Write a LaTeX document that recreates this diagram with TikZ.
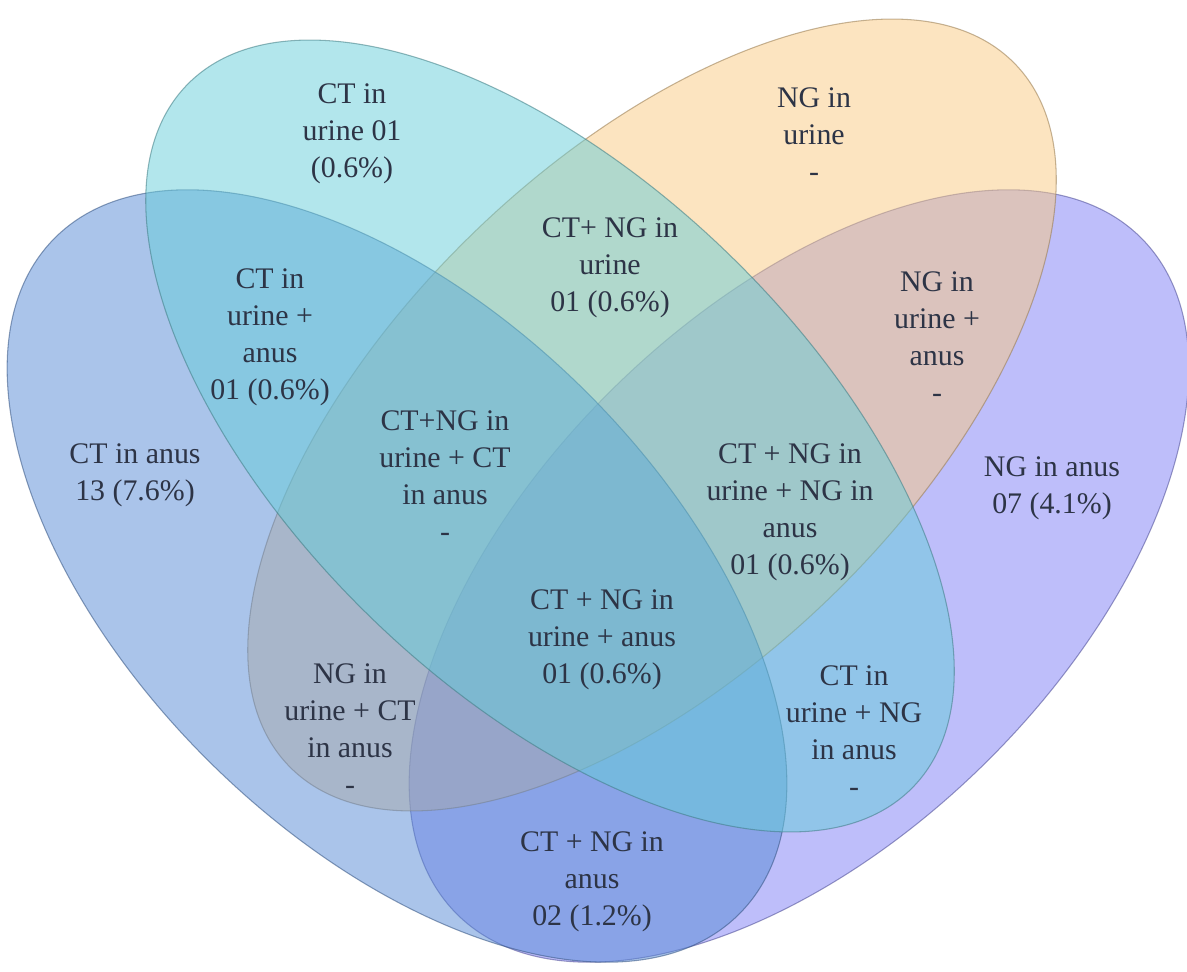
\documentclass[tikz,border=0pt]{standalone}
\usepackage{fontspec}
\setmainfont{Liberation Serif}
\definecolor{ctanus}{RGB}{85,137,213}
\definecolor{nganus}{RGB}{125,125,245}
\definecolor{cturine}{RGB}{101,205,217}
\definecolor{ngurine}{RGB}{249,201,129}
\definecolor{labeltext}{RGB}{45,52,70}
\begin{document}
\begin{tikzpicture}[
setshape/.style={fill=#1, fill opacity=0.5, draw=#1!60!black, draw opacity=0.55, line width=0.6pt},
setlabel/.style={align=center, text=labeltext, font=\fontsize{17}{21}\selectfont, inner sep=0pt},
]
\useasboundingbox (0,0) rectangle (23.74,19.42);
\path[setshape=nganus, shift={(15.98,7.90)}, rotate=44.5] (0,0) ellipse (9.62 and 5.28);
\path[setshape=ngurine, shift={(13.04,11.12)}, rotate=44] (0,0) ellipse (10.10 and 5.10);
\path[setshape=ctanus, shift={(7.94,7.90)}, rotate=-44.5] (0,0) ellipse (9.62 and 5.28);
\path[setshape=cturine, shift={(11.00,10.70)}, rotate=-44] (0,0) ellipse (10.10 and 5.10);
\node[setlabel] (cturineonly) at (7.04,16.74) {CT in\\urine 01\\(0.6\%)};
\node[setlabel] (ngurineonly) at (16.28,16.72) {NG in\\urine\\-};
\node[setlabel] (bothurine) at (12.20,14.06) {CT+ NG in\\urine\\01 (0.6\%)};
\node[setlabel] (ctboth) at (5.40,12.68) {CT in\\urine +\\anus\\01 (0.6\%)};
\node[setlabel] (ngboth) at (18.74,12.68) {NG in\\urine +\\anus\\-};
\node[setlabel] (ctanusonly) at (2.70,9.92) {CT in anus\\13 (7.6\%)};
\node[setlabel] (nganusonly) at (21.04,9.66) {NG in anus\\07 (4.1\%)};
\node[setlabel] (bothurinectanus) at (8.90,9.90) {CT+NG in\\urine + CT\\in anus\\-};
\node[setlabel] (bothurinenganus) at (15.80,9.18) {CT + NG in\\urine + NG in\\anus\\01 (0.6\%)};
\node[setlabel] (allfour) at (12.04,6.62) {CT + NG in\\urine + anus\\01 (0.6\%)};
\node[setlabel] (ngurinectanus) at (7.00,4.84) {NG in\\urine + CT\\in anus\\-};
\node[setlabel] (cturinenganus) at (17.08,4.80) {CT in\\urine + NG\\in anus\\-};
\node[setlabel] (bothanus) at (11.84,1.78) {CT + NG in\\anus\\02 (1.2\%)};
\end{tikzpicture}
\end{document}
